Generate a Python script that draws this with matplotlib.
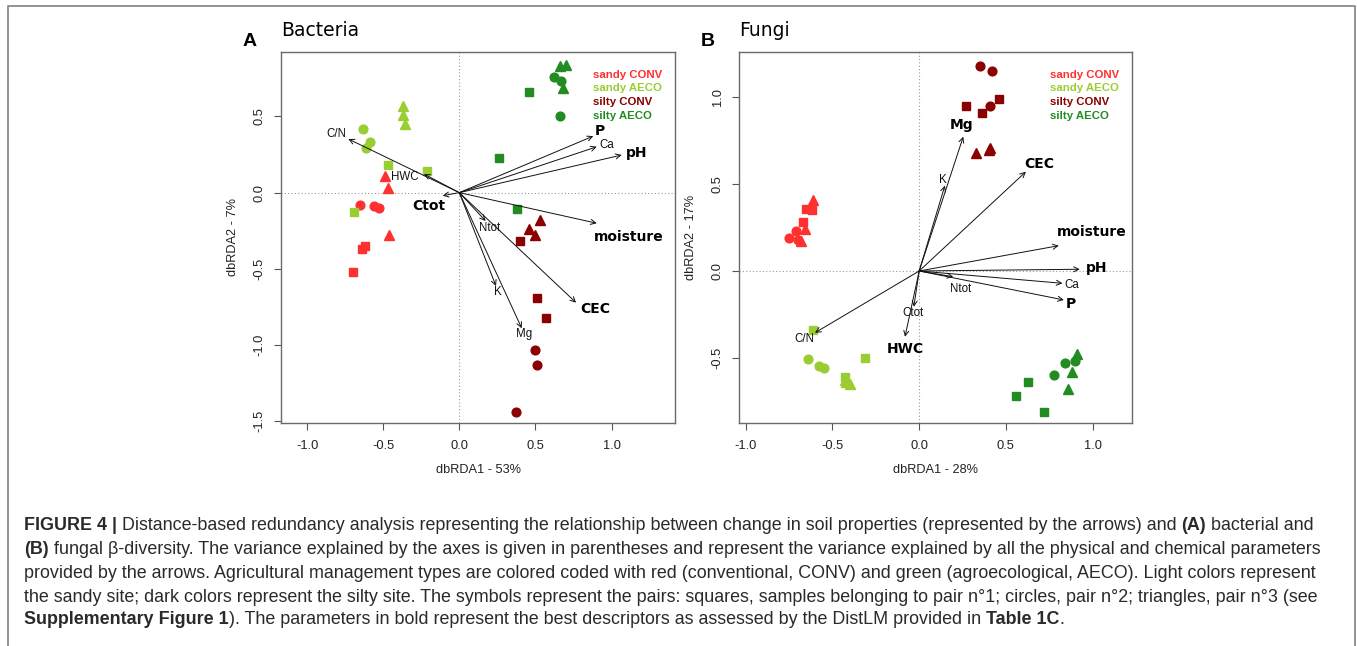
# -*- coding: utf-8 -*-
#%% modules
import matplotlib
matplotlib.use("Agg")
import matplotlib.pyplot as plt
from matplotlib.lines import Line2D


#%% data
groups = ["sandy CONV", "sandy AECO", "silty CONV", "silty AECO"]
group_colors = ["#FF3030", "#9ACD32", "#8B0000", "#228B22"]
pair_markers = {1: "s", 2: "o", 3: "^"}   # squares pair 1, circles pair 2, triangles pair 3

# Bacteria samples (group index, pair number)
bac_group = [0]*9 + [1]*9 + [2]*9 + [3]*9
bac_pair = [1, 1, 1, 2, 2, 2, 3, 3, 3] * 4
bac_x = [-0.62, -0.64, -0.70, -0.65, -0.56, -0.53, -0.49, -0.47, -0.46,
         -0.47, -0.21, -0.69, -0.63, -0.59, -0.61, -0.37, -0.37, -0.36,
         0.40, 0.51, 0.57, 0.50, 0.51, 0.37, 0.53, 0.46, 0.50,
         0.46, 0.26, 0.38, 0.62, 0.67, 0.66, 0.66, 0.70, 0.68]
bac_y = [-0.35, -0.37, -0.52, -0.08, -0.09, -0.10, 0.11, 0.03, -0.28,
         0.18, 0.14, -0.13, 0.42, 0.33, 0.29, 0.57, 0.51, 0.45,
         -0.32, -0.69, -0.82, -1.03, -1.13, -1.44, -0.18, -0.24, -0.28,
         0.66, 0.23, -0.11, 0.76, 0.73, 0.50, 0.83, 0.84, 0.69]

# Fungi samples
fun_group = [0]*9 + [1]*9 + [2]*9 + [3]*9
fun_pair = [1, 1, 1, 2, 2, 2, 3, 3, 3] * 4
fun_x = [-0.65, -0.62, -0.67, -0.75, -0.71, -0.70, -0.61, -0.66, -0.68,
         -0.61, -0.31, -0.43, -0.64, -0.58, -0.55, -0.42, -0.40, -0.43,
         0.27, 0.36, 0.46, 0.35, 0.42, 0.41, 0.33, 0.40, 0.41,
         0.63, 0.56, 0.72, 0.84, 0.90, 0.78, 0.91, 0.88, 0.86]
fun_y = [0.36, 0.35, 0.28, 0.19, 0.23, 0.18, 0.41, 0.24, 0.17,
         -0.34, -0.50, -0.61, -0.51, -0.55, -0.56, -0.64, -0.65, -0.63,
         0.95, 0.91, 0.99, 1.18, 1.15, 0.95, 0.68, 0.70, 0.71,
         -0.64, -0.72, -0.81, -0.53, -0.52, -0.60, -0.48, -0.58, -0.68]

# environmental arrows (tips)
bac_vars = ["P", "Ca", "pH", "moisture", "CEC", "Mg", "K", "Ntot", "C/N", "HWC", "Ctot"]
bac_vx = [0.880, 0.903, 1.067, 0.903, 0.767, 0.410, 0.241, 0.173, -0.729, -0.232, -0.109]
bac_vy = [0.371, 0.301, 0.247, -0.201, -0.722, -0.890, -0.613, -0.186, 0.352, 0.122, -0.020]
bac_bold = ["P", "pH", "moisture", "CEC", "Ctot"]

fun_vars = ["Mg", "K", "CEC", "moisture", "pH", "Ca", "P", "Ntot", "Ctot", "HWC", "C/N"]
fun_vx = [0.254, 0.148, 0.615, 0.805, 0.926, 0.826, 0.834, 0.196, -0.031, -0.082, -0.601]
fun_vy = [0.774, 0.492, 0.572, 0.146, 0.010, -0.071, -0.167, -0.033, -0.206, -0.379, -0.356]
fun_bold = ["Mg", "CEC", "moisture", "pH", "P", "HWC"]

bac_xticks = [-1.0, -0.5, 0.0, 0.5, 1.0]
bac_yticks = [-1.5, -1.0, -0.5, 0.0, 0.5]
fun_xticks = [-1.0, -0.5, 0.0, 0.5, 1.0]
fun_yticks = [-0.5, 0.0, 0.5, 1.0]

# label offsets from arrow tips (pixels, x right / y down)
bac_lab_off = {"P": (7, -5), "Ca": (10, -2), "pH": (15, -2), "moisture": (32, 14),
               "CEC": (19, 6), "Mg": (2, 6), "K": (2, 6), "Ntot": (4, 7),
               "C/N": (-12, -5), "HWC": (-19, 3), "Ctot": (-14, 10)}
fun_lab_off = {"Mg": (-2, -12), "K": (-2, -6), "CEC": (13, -8), "moisture": (33, -14),
               "pH": (17, -1), "Ca": (9, 2), "P": (7, 4), "Ntot": (7, 12),
               "Ctot": (-1, 6), "HWC": (0, 12), "C/N": (-11, 6)}


#%% canvas
W, H = 1357, 646
fig = plt.figure(figsize=(W / 100, H / 100), dpi=100, facecolor="white")

def fx(px):
    return px / W

def fy(py):
    return 1 - py / H

SANS = ["Liberation Sans", "DejaVu Sans"]


def draw_panel(ax, xs, ys, grp, pair, vars_, vx, vy, bold, offs,
               xlim, ylim, xticks, yticks, xlab, ylab, letter, title, ax_px, leg_x):
    ax.axhline(0, color="#9a9a9a", lw=0.8, ls=(0, (1, 2)), zorder=0)
    ax.axvline(0, color="#9a9a9a", lw=0.8, ls=(0, (1, 2)), zorder=0)

    # samples
    for g in range(4):
        for p in (1, 2, 3):
            px = [x for x, gg, pp in zip(xs, grp, pair) if gg == g and pp == p]
            py = [y for y, gg, pp in zip(ys, grp, pair) if gg == g and pp == p]
            ms = {"s": 5.8, "o": 6.3, "^": 7.4}[pair_markers[p]]
            ax.plot(px, py, ls="none", marker=pair_markers[p], ms=ms,
                    mfc=group_colors[g], mec=group_colors[g], zorder=3)

    # arrows
    for name, x, y in zip(vars_, vx, vy):
        ax.annotate("", xy=(x, y), xytext=(0, 0),
                    arrowprops=dict(arrowstyle="->,head_length=0.6,head_width=0.3",
                                    lw=0.7, color="#111111", shrinkA=0, shrinkB=0,
                                    mutation_scale=6), zorder=4)
        dx, dy = offs[name]
        if name in bold:
            ax.annotate(name, xy=(x, y), xytext=(dx * 0.72, -dy * 0.72),
                        textcoords="offset points", ha="center", va="center",
                        fontsize=10, fontweight="bold", family="DejaVu Sans",
                        color="black", zorder=5)
        else:
            ax.annotate(name, xy=(x, y), xytext=(dx * 0.72, -dy * 0.72),
                        textcoords="offset points", ha="center", va="center",
                        fontsize=8.3, family=SANS, color="#111111", zorder=5)

    ax.set_xlim(*xlim)
    ax.set_ylim(*ylim)
    ax.set_xticks(xticks)
    ax.set_yticks(yticks)
    ax.set_xticklabels([f"{t:.1f}" for t in xticks], family=SANS)
    ax.set_yticklabels([f"{t:.1f}" for t in yticks], family=SANS,
                       rotation=90, va="center")
    ax.tick_params(direction="out", length=5, width=0.8, color="#555555",
                   labelsize=9.3, labelcolor="#222222")
    ax.tick_params(axis="x", pad=7)
    ax.tick_params(axis="y", pad=6)
    for sp in ax.spines.values():
        sp.set_color("#6a6a6a")
        sp.set_linewidth(1.0)

    left, top, right, bottom = ax_px
    cx = (left + right) / 2
    cy = (top + bottom) / 2
    fig.text(fx(cx), fy(470), xlab, ha="center", va="center",
             fontsize=9.2, family=SANS, color="#222222")
    fig.text(fx(left - 48), fy(cy), ylab, ha="center", va="center",
             rotation=90, fontsize=9.2, family=SANS, color="#222222")
    fig.text(fx(left - 31), fy(42), letter, ha="center", va="center",
             fontsize=14, fontweight="bold", family=SANS, color="black")
    fig.text(fx(left), fy(30), title, ha="left", va="center",
             fontsize=13.5, family="DejaVu Sans", color="black")

    # legend
    for i, (g, c) in enumerate(zip(groups, group_colors)):
        fig.text(fx(leg_x), fy(74.5 + 13.9 * i), g, ha="left", va="center",
                 fontsize=8.2, fontweight="bold", family=SANS, color=c)


# panel A
axA_px = (281, 52, 675, 423)
axA = fig.add_axes([fx(281), fy(423), 394 / W, 371 / H])
draw_panel(axA, bac_x, bac_y, bac_group, bac_pair, bac_vars, bac_vx, bac_vy,
           bac_bold, bac_lab_off, (-1.1715, 1.417), (-1.512, 0.923),
           bac_xticks, bac_yticks, "dbRDA1 - 53%", "dbRDA2 - 7%",
           "A", "Bacteria", axA_px, 592.7)

# panel B
axB_px = (739, 52, 1132, 423)
axB = fig.add_axes([fx(739), fy(423), 393 / W, 371 / H])
draw_panel(axB, fun_x, fun_y, fun_group, fun_pair, fun_vars, fun_vx, fun_vy,
           fun_bold, fun_lab_off, (-1.039, 1.227), (-0.876, 1.262),
           fun_xticks, fun_yticks, "dbRDA1 - 28%", "dbRDA2 - 17%",
           "B", "Fungi", axB_px, 1050)


#%% frame around the figure
fig.add_artist(Line2D([fx(8), fx(8), fx(1355), fx(1355)],
                      [fy(660), fy(6), fy(6), fy(660)],
                      transform=fig.transFigure, color="#8a8a8a", lw=1.3))


#%% caption (runs with **bold** parts)
caption_lines = [
    "**FIGURE 4 |** Distance-based redundancy analysis representing the relationship between change in soil properties (represented by the arrows) and **(A)** bacterial and",
    "**(B)** fungal \u03b2-diversity. The variance explained by the axes is given in parentheses and represent the variance explained by all the physical and chemical parameters",
    "provided by the arrows. Agricultural management types are colored coded with red (conventional, CONV) and green (agroecological, AECO). Light colors represent",
    "the sandy site; dark colors represent the silty site. The symbols represent the pairs: squares, samples belonging to pair n\u00b01; circles, pair n\u00b02; triangles, pair n\u00b03 (see",
    "**Supplementary Figure 1**). The parameters in bold represent the best descriptors as assessed by the DistLM provided in **Table 1C**.",
]
cap_size = 12.85
cap_y = [525, 549, 573, 597, 620]

renderer = fig.canvas.get_renderer()
probe1 = fig.text(0, 0, "x x", fontsize=cap_size, family=SANS)
probe2 = fig.text(0, 0, "xx", fontsize=cap_size, family=SANS)
space_w = probe1.get_window_extent(renderer).width - probe2.get_window_extent(renderer).width
probe1.remove()
probe2.remove()

for line, ypx in zip(caption_lines, cap_y):
    xcur = 24.0
    for k, seg in enumerate(line.split("**")):
        if seg == "":
            continue
        lead = len(seg) - len(seg.lstrip(" "))
        trail = len(seg) - len(seg.rstrip(" "))
        xcur += lead * space_w
        t = fig.text(fx(xcur), fy(ypx), seg.strip(" "), ha="left", va="center",
                     fontsize=cap_size, family=SANS, color="#2a2a2a",
                     fontweight="bold" if k % 2 == 1 else "normal")
        bb = t.get_window_extent(renderer)
        xcur = bb.x1 + trail * space_w

fig.savefig("out.png", dpi=100, facecolor="white")
